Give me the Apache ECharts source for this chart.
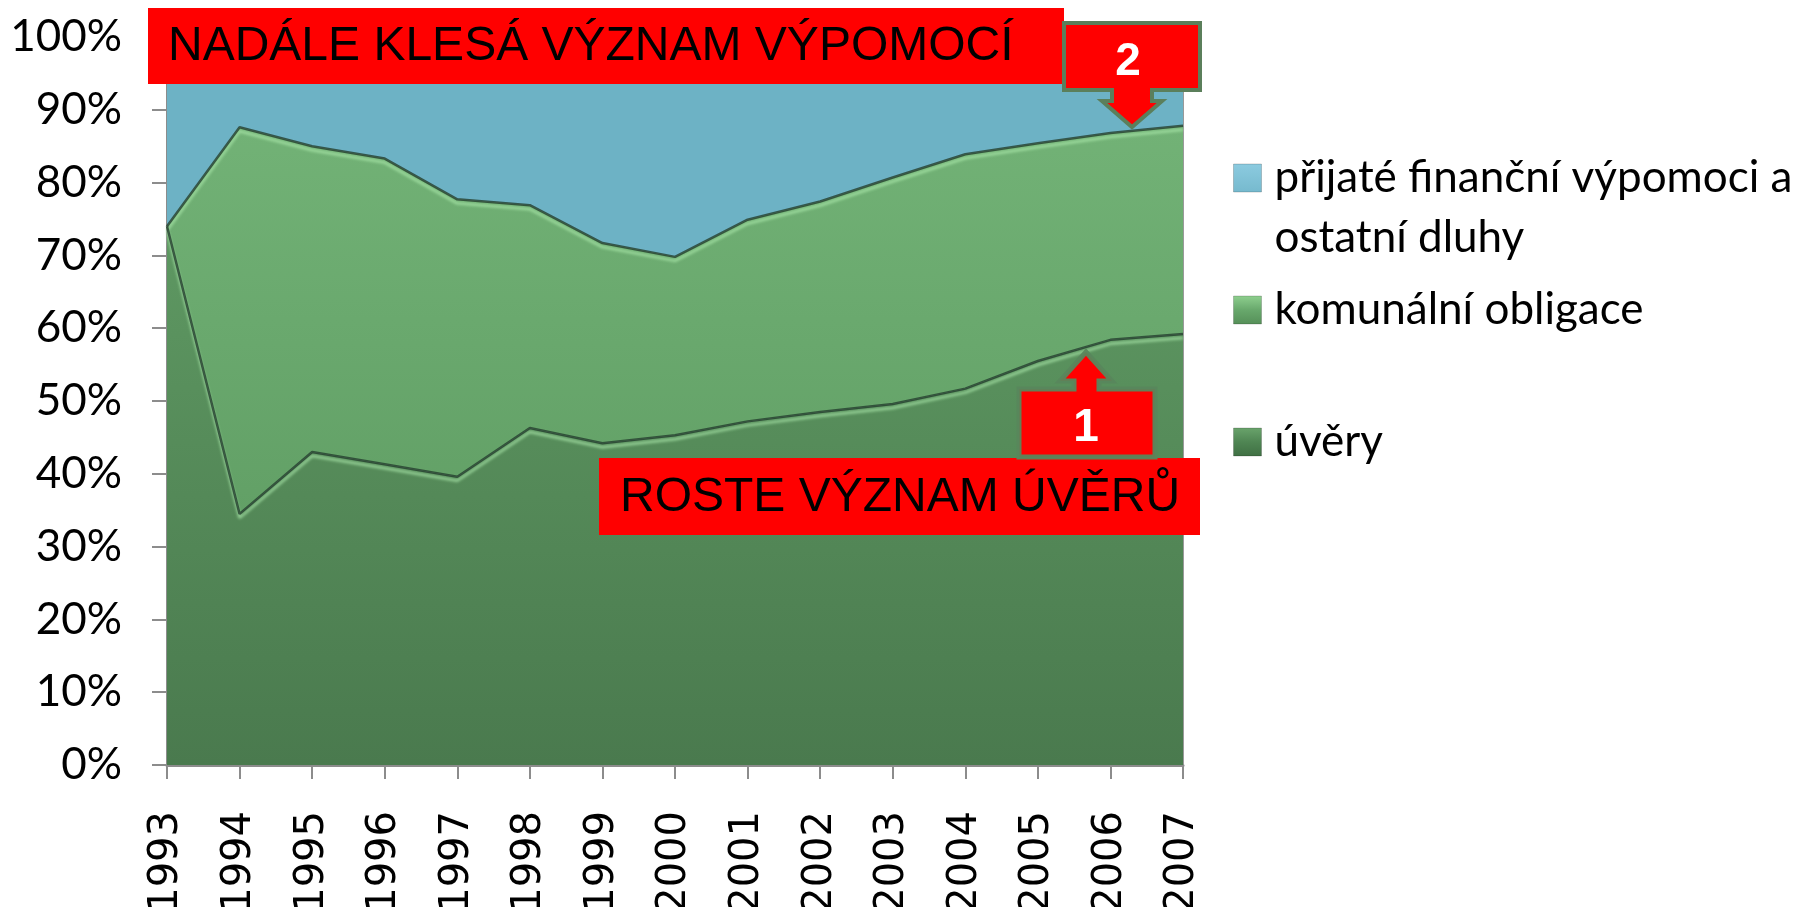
<!DOCTYPE html>
<html><head><meta charset="utf-8">
<script src="https://cdn.jsdelivr.net/npm/echarts@6/dist/echarts.min.js"></script>
<style>html,body{margin:0;padding:0;background:#fff}#c{width:1809px;height:907px}</style>
</head><body><div id="c"></div>
<script>
// Categories
const years = ['1993','1994','1995','1996','1997','1998','1999','2000','2001','2002','2003','2004','2005','2006','2007'];
// Shares in % (100% stacked)
const uvery    = [74.0, 34.5, 43.0, 41.3, 39.6, 46.3, 44.2, 45.3, 47.2, 48.5, 49.6, 51.7, 55.5, 58.4, 59.2];
const obligace = [ 0.0, 53.1, 42.0, 42.0, 38.1, 30.6, 27.5, 24.5, 27.7, 28.9, 31.1, 32.2, 29.9, 28.4, 28.6];
const vypomoci = [26.0, 12.4, 15.0, 16.7, 22.3, 23.1, 28.3, 30.2, 25.1, 22.6, 19.3, 16.1, 14.6, 13.2, 12.2];
const seriesNames = ['úvěry', 'komunální obligace', 'přijaté finanční výpomoci a\nostatní dluhy'];
const noteTop = 'NADÁLE KLESÁ VÝZNAM VÝPOMOCÍ';
const noteBottom = 'ROSTE VÝZNAM ÚVĚRŮ';

const chart = echarts.init(document.getElementById('c'), null, {renderer: 'canvas'});
const G = (stops) => new echarts.graphic.LinearGradient(0, 0, 0, 1, stops.map((c, i) => ({offset: i / (stops.length - 1), color: c})));
const bevel = {
  color: 'rgba(36,62,46,0.8)', width: 2.5,
  shadowColor: 'rgba(175,236,175,0.95)', shadowBlur: 3, shadowOffsetY: 4
};
const legendFont = {fontFamily: 'Lato, "Open Sans", sans-serif', fontSize: 44, color: '#000', lineHeight: 60};
function leg(name, top, stops, icon, h) {
  return {
    orient: 'vertical', left: 1233, top: top, padding: 0,
    itemWidth: 28, itemHeight: h, icon: icon,
    data: [{name: name, itemStyle: {color: G(stops), borderColor: 'rgba(0,0,0,0.18)', borderWidth: 1}}],
    textStyle: Object.assign({}, legendFont, {padding: [0, 0, 0, 8]})
  };
}

chart.setOption({
  animation: false,
  backgroundColor: '#fff',
  grid: {left: 167, right: 626, top: 37, bottom: 142, containLabel: false, outerBoundsMode: 'none',
         show: true, backgroundColor: 'transparent', borderColor: 'rgba(70,70,70,0.55)', borderWidth: 2},
  legend: [
    // square at top of a taller item so the icon sits beside the first text line
    leg(seriesNames[2], 148, ['#8ccbe0', '#6ab0c4', '#5499ad'], 'path://M0,0H28V28H0Z M0,88L0.01,88', 88),
    leg(seriesNames[1], 280, ['#8fd08f', '#68a86c', '#558f58'], 'rect', 28),
    leg(seriesNames[0], 412, ['#6aa46c', '#4f8553', '#3f6f43'], 'rect', 28)
  ],
  xAxis: {
    type: 'category', data: years, boundaryGap: false,
    axisLine: {lineStyle: {color: '#8c8c8c', width: 3}},
    axisTick: {length: 14, interval: 0, lineStyle: {color: '#8c8c8c', width: 2}},
    axisLabel: {rotate: 90, interval: 0, margin: 46, fontSize: 40, fontFamily: '"DejaVu Sans", sans-serif', color: '#000'},
    splitLine: {show: false}
  },
  yAxis: {
    type: 'value', min: 0, max: 100, interval: 10,
    axisLine: {show: true, lineStyle: {color: '#8c8c8c', width: 2}},
    axisTick: {show: true, length: 15, lineStyle: {color: '#8c8c8c', width: 2}},
    axisLabel: {formatter: '{value}%', margin: 45, fontSize: 44, fontFamily: 'Lato, "Open Sans", sans-serif', color: '#000'},
    splitLine: {show: false}
  },
  series: [
    {name: seriesNames[0], type: 'line', stack: 'total', data: uvery, symbol: 'none', z: 4,
     lineStyle: bevel, areaStyle: {opacity: 1, color: G(['#5e9862', '#4a7a4e'])}},
    {name: seriesNames[1], type: 'line', stack: 'total', data: obligace, symbol: 'none', z: 3,
     lineStyle: bevel, areaStyle: {opacity: 1, color: G(['#72b276', '#62a066'])}},
    {name: seriesNames[2], type: 'line', stack: 'total', data: vypomoci, symbol: 'none', z: 2,
     lineStyle: {width: 0}, areaStyle: {opacity: 1, color: '#6db2c5'}}
  ],
  graphic: [
    {type: 'rect', z: 100, shape: {x: 148, y: 8, width: 916, height: 76}, style: {fill: '#ff0000'}},
    {type: 'text', z: 101, x: 168, y: 47, style: {text: noteTop, fill: '#000', font: '48px "Liberation Sans", Arial, sans-serif', verticalAlign: 'middle'}},
    {type: 'rect', z: 100, shape: {x: 599, y: 458, width: 601, height: 77}, style: {fill: '#ff0000'}},
    {type: 'text', z: 101, x: 620, y: 498, style: {text: noteBottom, fill: '#000', font: '48px "Liberation Sans", Arial, sans-serif', verticalAlign: 'middle'}},
    {type: 'polygon', z: 102, shape: {points: [[1064,23],[1200,23],[1200,90],[1152,90],[1152,101],[1162,101],[1132,127],[1102,101],[1112,101],[1112,90],[1064,90]]},
     style: {fill: '#ff0000', stroke: '#5b7f5b', lineWidth: 4}},
    {type: 'text', z: 103, x: 1128, y: 62, style: {text: '2', fill: '#fff', font: 'bold 46px "Liberation Sans", Arial, sans-serif', align: 'center', verticalAlign: 'middle'}},
    {type: 'polygon', z: 102, shape: {points: [[1019,389],[1074,389],[1074,381],[1060,381],[1086,352],[1112,381],[1099,381],[1099,389],[1155,389],[1155,457],[1019,457]]},
     style: {fill: '#ff0000', stroke: 'rgba(88,135,92,0.95)', lineWidth: 5}},
    {type: 'text', z: 103, x: 1086, y: 428, style: {text: '1', fill: '#fff', font: 'bold 46px "Liberation Sans", Arial, sans-serif', align: 'center', verticalAlign: 'middle'}}
  ]
});
</script></body></html>
